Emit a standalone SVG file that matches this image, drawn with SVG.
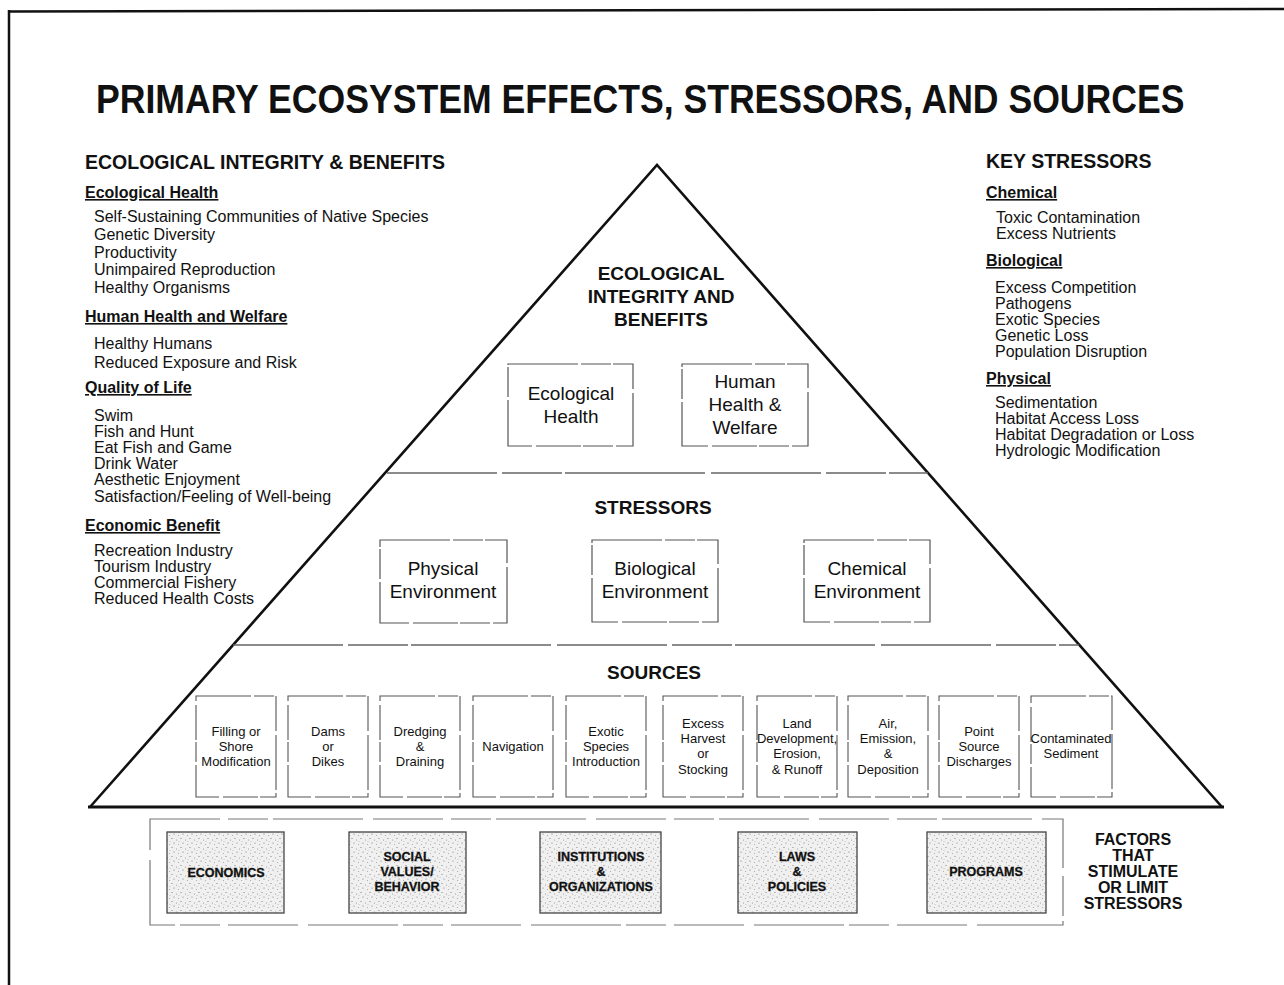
<svg xmlns="http://www.w3.org/2000/svg" width="1284" height="985" viewBox="0 0 1284 985">
<defs>
<style>
text{font-family:"Liberation Sans",Arial,Helvetica,sans-serif;fill:#111}
.title{font-size:40px;font-weight:bold}
.h1{font-size:19.5px;font-weight:bold}
.h2{font-size:16px;font-weight:bold;text-decoration:underline}
.it{font-size:16px}
.ph{font-size:19px;font-weight:bold;text-anchor:middle}
.bx{font-size:19px;text-anchor:middle}
.src{font-size:13px;text-anchor:middle}
.fac{font-size:12.5px;font-weight:bold;text-anchor:middle;stroke:#111;stroke-width:0.3}
.side{font-size:16px;font-weight:bold;text-anchor:middle}
.box{fill:none;stroke:#555;stroke-width:1.2;stroke-dasharray:70 3 30 2 45 4}
.sbox{fill:none;stroke:#555;stroke-width:1.1;stroke-dasharray:55 3 20 2 35 4}
.div{fill:none;stroke:#666;stroke-width:1.3;stroke-dasharray:110 5 60 3 140 6}
.fbox{fill:url(#stip);stroke:#444;stroke-width:1.3}
.outer{fill:none;stroke:#777;stroke-width:1.2;stroke-dasharray:70 8 40 5 90 10}
</style>
<pattern id="stip" width="9" height="9" patternUnits="userSpaceOnUse">
<rect width="9" height="9" fill="#f0f0f0"/>
<circle cx="1" cy="1.5" r="0.6" fill="#777"/>
<circle cx="5.5" cy="3" r="0.5" fill="#888"/>
<circle cx="3" cy="6" r="0.6" fill="#777"/>
<circle cx="7.5" cy="7.5" r="0.5" fill="#999"/>
<circle cx="8" cy="4.5" r="0.4" fill="#888"/>
</pattern>
</defs>
<rect width="1284" height="985" fill="#fff"/>
<g id="frame" fill="none" stroke="#111" stroke-width="2.5">
<line x1="8" y1="11.5" x2="1284" y2="9"/>
<line x1="9" y1="10" x2="9" y2="985"/>
</g>
<text class="title" x="107.9" y="113" transform="scale(0.89 1)">PRIMARY ECOSYSTEM EFFECTS, STRESSORS, AND SOURCES</text>

<g id="left-column">
<text class="h1" x="85" y="169">ECOLOGICAL INTEGRITY &amp; BENEFITS</text>
<text class="h2" x="85" y="198">Ecological Health</text>
<text class="it" x="94" y="222">Self-Sustaining Communities of Native Species</text>
<text class="it" x="94" y="240">Genetic Diversity</text>
<text class="it" x="94" y="258">Productivity</text>
<text class="it" x="94" y="275">Unimpaired Reproduction</text>
<text class="it" x="94" y="293">Healthy Organisms</text>
<text class="h2" x="85" y="322">Human Health and Welfare</text>
<text class="it" x="94" y="349">Healthy Humans</text>
<text class="it" x="94" y="368">Reduced Exposure and Risk</text>
<text class="h2" x="85" y="393">Quality of Life</text>
<text class="it" x="94" y="421">Swim</text>
<text class="it" x="94" y="437">Fish and Hunt</text>
<text class="it" x="94" y="453">Eat Fish and Game</text>
<text class="it" x="94" y="469">Drink Water</text>
<text class="it" x="94" y="485">Aesthetic Enjoyment</text>
<text class="it" x="94" y="502">Satisfaction/Feeling of Well-being</text>
<text class="h2" x="85" y="531">Economic Benefit</text>
<text class="it" x="94" y="556">Recreation Industry</text>
<text class="it" x="94" y="572">Tourism Industry</text>
<text class="it" x="94" y="588">Commercial Fishery</text>
<text class="it" x="94" y="604">Reduced Health Costs</text>
</g>

<g id="right-column">
<text class="h1" x="986" y="168">KEY STRESSORS</text>
<text class="h2" x="986" y="198">Chemical</text>
<text class="it" x="996" y="223">Toxic Contamination</text>
<text class="it" x="996" y="239">Excess Nutrients</text>
<text class="h2" x="986" y="266">Biological</text>
<text class="it" x="995" y="293">Excess Competition</text>
<text class="it" x="995" y="309">Pathogens</text>
<text class="it" x="995" y="325">Exotic Species</text>
<text class="it" x="995" y="341">Genetic Loss</text>
<text class="it" x="995" y="357">Population Disruption</text>
<text class="h2" x="986" y="384">Physical</text>
<text class="it" x="995" y="408">Sedimentation</text>
<text class="it" x="995" y="424">Habitat Access Loss</text>
<text class="it" x="995" y="440">Habitat Degradation or Loss</text>
<text class="it" x="995" y="456">Hydrologic Modification</text>
</g>

<g id="pyramid">
<polyline points="90,807 657,165 1222,807" fill="none" stroke="#111" stroke-width="2.6" stroke-linejoin="miter"/>
<line x1="88" y1="807" x2="1224" y2="807" stroke="#111" stroke-width="3.2"/>
<line class="div" x1="387" y1="473" x2="928" y2="473"/>
<line class="div" x1="233" y1="645" x2="1079" y2="645"/>
<text class="ph" x="661" y="280">ECOLOGICAL</text>
<text class="ph" x="661" y="303">INTEGRITY AND</text>
<text class="ph" x="661" y="326">BENEFITS</text>
<text class="ph" x="653" y="514">STRESSORS</text>
<text class="ph" x="654" y="679">SOURCES</text>
</g>

<g id="ecological-health">
<rect class="box" x="508" y="364" width="125" height="82"/>
<text class="bx" x="571" y="400">Ecological</text>
<text class="bx" x="571" y="423">Health</text>
</g>
<g id="human-health-welfare">
<rect class="box" x="682" y="364" width="126" height="82"/>
<text class="bx" x="745" y="388">Human</text>
<text class="bx" x="745" y="411">Health &amp;</text>
<text class="bx" x="745" y="434">Welfare</text>
</g>

<g id="physical-environment">
<rect class="box" x="380" y="540" width="127" height="83"/>
<text class="bx" x="443" y="575">Physical</text>
<text class="bx" x="443" y="598">Environment</text>
</g>
<g id="biological-environment">
<rect class="box" x="592" y="540" width="126" height="82"/>
<text class="bx" x="655" y="575">Biological</text>
<text class="bx" x="655" y="598">Environment</text>
</g>
<g id="chemical-environment">
<rect class="box" x="804" y="540" width="126" height="82"/>
<text class="bx" x="867" y="575">Chemical</text>
<text class="bx" x="867" y="598">Environment</text>
</g>

<g id="src-filling">
<rect class="sbox" x="196" y="696" width="80" height="101"/>
<text class="src" x="236" y="736">Filling or</text>
<text class="src" x="236" y="751">Shore</text>
<text class="src" x="236" y="766">Modification</text>
</g>
<g id="src-dams">
<rect class="sbox" x="288" y="696" width="80" height="101"/>
<text class="src" x="328" y="736">Dams</text>
<text class="src" x="328" y="751">or</text>
<text class="src" x="328" y="766">Dikes</text>
</g>
<g id="src-dredging">
<rect class="sbox" x="380" y="696" width="80" height="101"/>
<text class="src" x="420" y="736">Dredging</text>
<text class="src" x="420" y="751">&amp;</text>
<text class="src" x="420" y="766">Draining</text>
</g>
<g id="src-navigation">
<rect class="sbox" x="473" y="696" width="80" height="101"/>
<text class="src" x="513" y="751">Navigation</text>
</g>
<g id="src-exotic">
<rect class="sbox" x="566" y="696" width="80" height="101"/>
<text class="src" x="606" y="736">Exotic</text>
<text class="src" x="606" y="751">Species</text>
<text class="src" x="606" y="766">Introduction</text>
</g>
<g id="src-harvest">
<rect class="sbox" x="663" y="696" width="80" height="101"/>
<text class="src" x="703" y="728">Excess</text>
<text class="src" x="703" y="743">Harvest</text>
<text class="src" x="703" y="758">or</text>
<text class="src" x="703" y="774">Stocking</text>
</g>
<g id="src-land">
<rect class="sbox" x="757" y="696" width="80" height="101"/>
<text class="src" x="797" y="728">Land</text>
<text class="src" x="797" y="743">Development,</text>
<text class="src" x="797" y="758">Erosion,</text>
<text class="src" x="797" y="774">&amp; Runoff</text>
</g>
<g id="src-air">
<rect class="sbox" x="848" y="696" width="80" height="101"/>
<text class="src" x="888" y="728">Air,</text>
<text class="src" x="888" y="743">Emission,</text>
<text class="src" x="888" y="758">&amp;</text>
<text class="src" x="888" y="774">Deposition</text>
</g>
<g id="src-point">
<rect class="sbox" x="939" y="696" width="80" height="101"/>
<text class="src" x="979" y="736">Point</text>
<text class="src" x="979" y="751">Source</text>
<text class="src" x="979" y="766">Discharges</text>
</g>
<g id="src-sediment">
<rect class="sbox" x="1031" y="696" width="81" height="101"/>
<text class="src" x="1071" y="743">Contaminated</text>
<text class="src" x="1071" y="758">Sediment</text>
</g>

<g id="factors">
<rect class="outer" x="150" y="819" width="913" height="106"/>
<g id="f-economics">
<rect class="fbox" x="167" y="832" width="117" height="81"/>
<text class="fac" x="226" y="877">ECONOMICS</text>
</g>
<g id="f-social">
<rect class="fbox" x="349" y="832" width="117" height="81"/>
<text class="fac" x="407" y="861">SOCIAL</text>
<text class="fac" x="407" y="876">VALUES/</text>
<text class="fac" x="407" y="891">BEHAVIOR</text>
</g>
<g id="f-institutions">
<rect class="fbox" x="540" y="832" width="121" height="81"/>
<text class="fac" x="601" y="861">INSTITUTIONS</text>
<text class="fac" x="601" y="876">&amp;</text>
<text class="fac" x="601" y="891">ORGANIZATIONS</text>
</g>
<g id="f-laws">
<rect class="fbox" x="738" y="832" width="119" height="81"/>
<text class="fac" x="797" y="861">LAWS</text>
<text class="fac" x="797" y="876">&amp;</text>
<text class="fac" x="797" y="891">POLICIES</text>
</g>
<g id="f-programs">
<rect class="fbox" x="927" y="832" width="119" height="81"/>
<text class="fac" x="986" y="876">PROGRAMS</text>
</g>
<text class="side" x="1133" y="845">FACTORS</text>
<text class="side" x="1133" y="861">THAT</text>
<text class="side" x="1133" y="877">STIMULATE</text>
<text class="side" x="1133" y="893">OR LIMIT</text>
<text class="side" x="1133" y="909">STRESSORS</text>
</g>
<g id="connectors"></g>
</svg>
